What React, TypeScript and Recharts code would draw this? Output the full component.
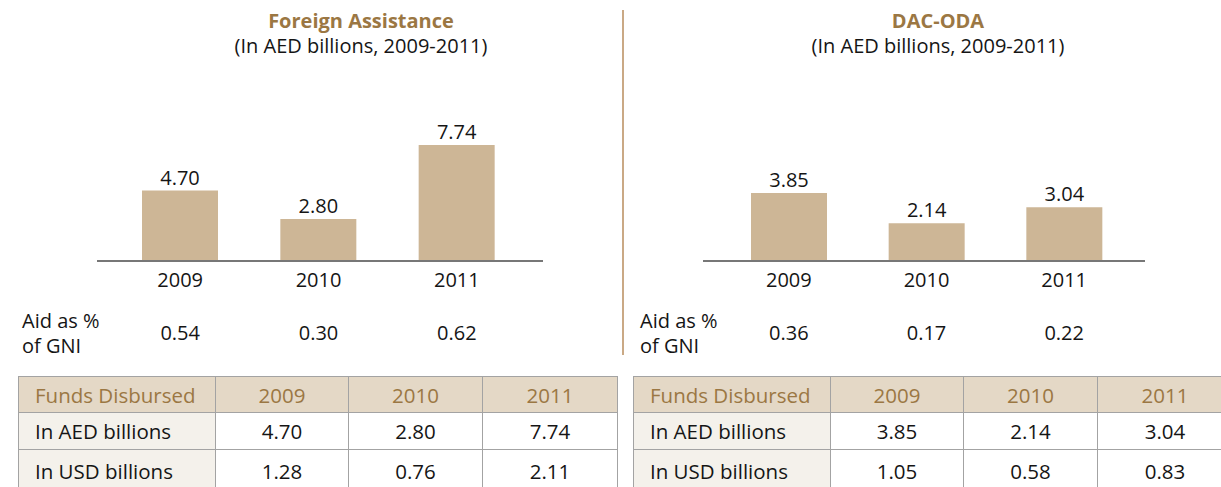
import { BarChart, Bar, XAxis, YAxis, LabelList } from "recharts"

const years = ['2009', '2010', '2011']
const foreignAed = [4.70, 2.80, 7.74]
const foreignUsd = [1.28, 0.76, 2.11]
const foreignGni = ['0.54', '0.30', '0.62']
const dacAed = [3.85, 2.14, 3.04]
const dacUsd = [1.05, 0.58, 0.83]
const dacGni = ['0.36', '0.17', '0.22']

const FONT = '"Open Sans", sans-serif'
const GOLD = '#9b7743'
const BAR = '#cdb696'
const TEXT = '#151515'

type PanelProps = {
    title: string
    aed: number[]
    gni: string[]
    left: number
    width: number
    margin: { top: number, right: number, left: number, bottom: number }
    padding: { left: number, right: number }
    yMax: number
    titleCenter: number
    noteLeft: number
}

const Panel: React.FC<PanelProps> = ({ title, aed, gni, left, width, margin, padding, yMax, titleCenter, noteLeft }) => {
    const data = years.map((year, i) => ({ year, aed: aed[i], gni: gni[i] }))
    const tick = { fill: TEXT, fontSize: 20, fontFamily: FONT }
    return (
        <div style={{ position: 'absolute', left, top: 0, width, height: 361 }}>
            <div style={{ position: 'absolute', left: titleCenter - left - 200, width: 400, top: 8, textAlign: 'center', fontFamily: FONT, lineHeight: '25px' }}>
                <div style={{ color: GOLD, fontWeight: 700, fontSize: 20 }}>{title}</div>
                <div style={{ color: TEXT, fontSize: 20 }}>(In AED billions, 2009-2011)</div>
            </div>
            <div style={{ position: 'absolute', left: noteLeft - left, top: 308, fontFamily: FONT, fontSize: 20, lineHeight: '25px', color: TEXT }}>
                Aid as %<br />of GNI
            </div>
            <BarChart width={width} height={361} data={data} margin={margin}>
                <YAxis hide domain={[0, yMax]} />
                <XAxis dataKey="year" height={40} padding={padding} tickLine={false} tickSize={0} tickMargin={12}
                    axisLine={{ stroke: '#777777', strokeWidth: 2 }} tick={tick} />
                <XAxis xAxisId="gni" dataKey="gni" height={60} padding={padding} tickLine={false} tickSize={0} tickMargin={25}
                    axisLine={false} tick={tick} />
                <Bar dataKey="aed" fill={BAR} barSize={76} isAnimationActive={false}>
                    <LabelList dataKey="aed" position="top" offset={6} formatter={(v: any) => Number(v).toFixed(2)}
                        style={{ fill: TEXT, fontSize: 20, fontFamily: FONT }} />
                </Bar>
            </BarChart>
        </div>
    )
}

const colWidths = [197, 133, 134, 135]

const FundsTable: React.FC<{ aed: number[], usd: number[], left: number }> = ({ aed, usd, left }) => {
    const cell = { border: '1px solid #a3a3a3', padding: 0, fontFamily: FONT, fontSize: 20.5, textAlign: 'center' as const }
    const rows = [
        { label: 'In AED billions', values: aed, height: 37 },
        { label: 'In USD billions', values: usd, height: 42 },
    ]
    return (
        <table style={{ position: 'absolute', left, top: 376, borderCollapse: 'collapse', tableLayout: 'fixed', width: colWidths.reduce((a, b) => a + b, 0) }}>
            <colgroup>
                {colWidths.map((w, i) => <col key={i} style={{ width: w }} />)}
            </colgroup>
            <tbody>
                <tr style={{ height: 36, background: '#e4d8c6', color: GOLD }}>
                    <td style={{ ...cell, textAlign: 'left', paddingLeft: 16 }}>Funds Disbursed</td>
                    {years.map(y => <td key={y} style={cell}>{y}</td>)}
                </tr>
                {rows.map(r => (
                    <tr key={r.label} style={{ height: r.height, color: TEXT }}>
                        <td style={{ ...cell, textAlign: 'left', paddingLeft: 16, background: '#f4f1eb' }}>{r.label}</td>
                        {r.values.map((v, i) => <td key={i} style={{ ...cell, background: '#ffffff' }}>{v.toFixed(2)}</td>)}
                    </tr>
                ))}
            </tbody>
        </table>
    )
}

export default function App() {
    return (
        <div style={{ position: 'absolute', left: 0, top: 0, width: 1221, height: 487, overflow: 'hidden', background: '#ffffff' }}>
            <Panel title="Foreign Assistance" aed={foreignAed} gni={foreignGni} left={0} width={620} noteLeft={22}
                margin={{ top: 111, right: 77, left: 97, bottom: 0 }} padding={{ left: 14, right: 17 }} yMax={10} titleCenter={361} />
            <div style={{ position: 'absolute', left: 622, top: 10, width: 2, height: 345, background: '#caa985' }} />
            <Panel title="DAC-ODA" aed={dacAed} gni={dacGni} left={623} width={598} noteLeft={640}
                margin={{ top: 111, right: 76, left: 80, bottom: 0 }} padding={{ left: 17, right: 12 }} yMax={8.5} titleCenter={938} />
            <FundsTable aed={foreignAed} usd={foreignUsd} left={18} />
            <FundsTable aed={dacAed} usd={dacUsd} left={633} />
        </div>
    )
}
